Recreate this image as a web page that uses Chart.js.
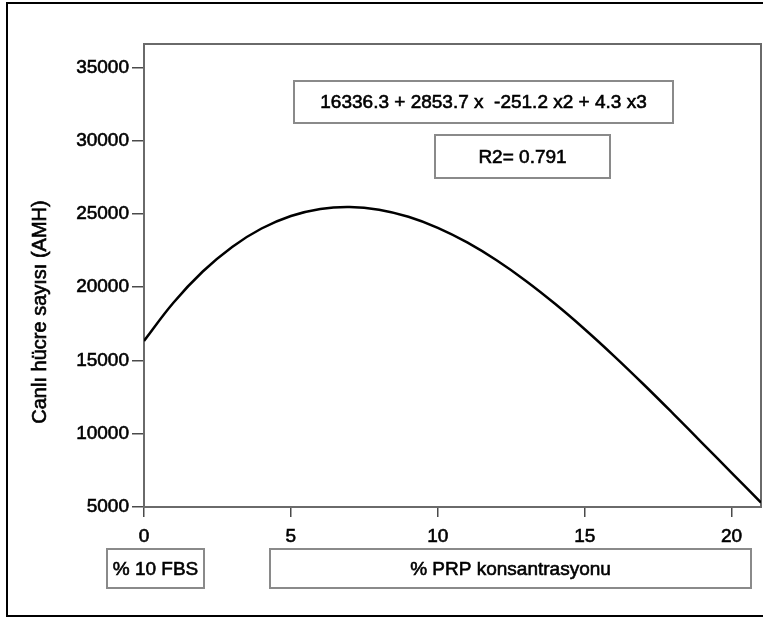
<!DOCTYPE html>
<html>
<head>
<meta charset="utf-8">
<script src="https://cdn.jsdelivr.net/npm/chart.js@4"></script>
<style>
  html, body { margin: 0; padding: 0; background: #ffffff; }
  #wrap { position: relative; width: 763px; height: 619px; overflow: hidden; }
  #frame { position: absolute; left: 6px; top: 2px; width: 800px; height: 611px; border: 2px solid #000; box-sizing: content-box; pointer-events: none; }
  canvas { position: absolute; left: 0; top: 0; }
</style>
</head>
<body>
<div id="wrap">
  <canvas id="chart" width="763" height="619"></canvas>
  <div id="frame"></div>
</div>
<script>
// PRP concentration (%) and viable cell count
const concentration = [0, 1, 2, 3, 4, 5, 6, 7, 8, 9, 10, 11, 12, 13, 14, 15, 16, 17, 18, 19, 20, 21];
const cellCount = [16336, 18943, 21073, 22753, 24007, 24862, 25344, 25478, 25291, 24807, 24053,
                   23055, 21838, 20429, 18852, 17134, 15301, 13378, 11392, 9367, 7330, 5307];

// axis tick values
const xTicks = [0, 5, 10, 15, 20];
const yTicks = [5000, 10000, 15000, 20000, 25000, 30000, 35000];

// text labels
const yTitle = 'Canlı hücre sayısı (AMH)';
const equationText = '16336.3 + 2853.7 x  -251.2 x2 + 4.3 x3';
const r2Text = 'R2= 0.791';
const controlLabel = '% 10 FBS';
const xTitle = '% PRP konsantrasyonu';

const FONT = '"Liberation Sans", Arial, Helvetica, sans-serif';
const AXIS_GREY = '#4a4a4a';
const BOX_GREY = '#8a8a8a';
const TEXT_STROKE = 0.6;

// draw text slightly heavier by adding a thin outline in the same colour
function heavyText(ctx, text, x, y) {
  ctx.lineWidth = TEXT_STROKE;
  ctx.strokeStyle = '#000';
  ctx.strokeText(text, x, y);
  ctx.fillText(text, x, y);
}

// boxed text labels placed around the plot
function boxedLabel(ctx, text, x0, y0, x1, y1, size) {
  ctx.save();
  ctx.lineWidth = 2;
  ctx.strokeStyle = BOX_GREY;
  ctx.strokeRect(x0, y0, x1 - x0, y1 - y0);
  ctx.fillStyle = '#000';
  ctx.font = size + 'px ' + FONT;
  ctx.textAlign = 'center';
  ctx.textBaseline = 'middle';
  heavyText(ctx, text, (x0 + x1) / 2, (y0 + y1) / 2 + 1);
  ctx.restore();
}

const frameAndLabels = {
  id: 'frameAndLabels',
  beforeDatasetsDraw(chart) {
    const { ctx, chartArea: a } = chart;
    ctx.save();
    ctx.lineWidth = 2;
    ctx.strokeStyle = '#6a6a6a';
    ctx.strokeRect(a.left, a.top, a.right - a.left, a.bottom - a.top);
    ctx.restore();
  },
  afterDraw(chart) {
    const { ctx } = chart;
    boxedLabel(ctx, equationText, 294, 81, 673, 123, 19);
    boxedLabel(ctx, r2Text, 435, 135, 610, 178, 19);
    boxedLabel(ctx, controlLabel, 107, 549, 204, 588, 19);
    boxedLabel(ctx, xTitle, 270, 549, 751, 588, 19);

    ctx.save();
    ctx.translate(40, 312);
    ctx.rotate(-Math.PI / 2);
    ctx.fillStyle = '#000';
    ctx.font = '20px ' + FONT;
    ctx.textAlign = 'center';
    ctx.textBaseline = 'middle';
    heavyText(ctx, yTitle, 0, 0);
    ctx.restore();
  }
};

const tickFont = { family: FONT, size: 19 };

new Chart(document.getElementById('chart'), {
  type: 'line',
  data: {
    datasets: [{
      data: concentration.map((x, i) => ({ x: x, y: cellCount[i] })),
      borderColor: '#000',
      borderWidth: 2.5,
      pointRadius: 0,
      tension: 0.4,
      fill: false
    }]
  },
  options: {
    responsive: false,
    animation: false,
    events: [],
    layout: { padding: { top: 44, right: 2, left: 0, bottom: 0 } },
    plugins: { legend: { display: false }, tooltip: { enabled: false } },
    scales: {
      x: {
        type: 'linear',
        min: 0,
        max: 21,
        afterBuildTicks: s => { s.ticks = xTicks.map(v => ({ value: v })); },
        afterFit: s => { s.height = 112; },
        grid: { drawOnChartArea: false, drawTicks: true, tickLength: 10, color: AXIS_GREY, lineWidth: 1.5 },
        border: { color: AXIS_GREY, width: 2 },
        ticks: { color: '#000', padding: 8, font: tickFont, maxRotation: 0,
                 textStrokeColor: '#000', textStrokeWidth: TEXT_STROKE,
                 callback: v => String(v) }
      },
      y: {
        min: 5000,
        max: 36600,
        afterBuildTicks: s => { s.ticks = yTicks.map(v => ({ value: v })); },
        afterFit: s => { s.width = 144; },
        grid: { drawOnChartArea: false, drawTicks: true, tickLength: 12, color: AXIS_GREY, lineWidth: 1.5 },
        border: { color: AXIS_GREY, width: 2 },
        ticks: { color: '#000', padding: 3, font: tickFont,
                 textStrokeColor: '#000', textStrokeWidth: TEXT_STROKE,
                 callback: v => String(v) }
      }
    }
  },
  plugins: [frameAndLabels]
});
</script>
</body>
</html>
